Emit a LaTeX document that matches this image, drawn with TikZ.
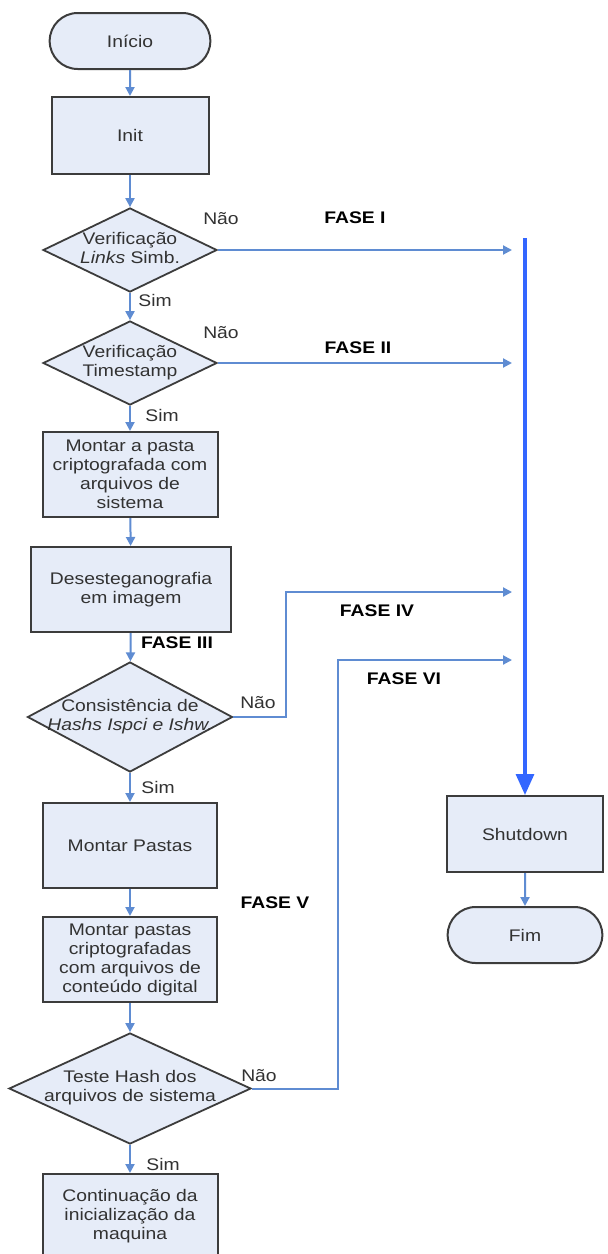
\documentclass[tikz,border=0pt]{standalone}
\usepackage{fontspec}
\setmainfont{Liberation Sans}[FakeStretch=1.15]
\usetikzlibrary{shapes.geometric,shapes.misc,arrows.meta}
\definecolor{boxfill}{RGB}{230,236,248}
\definecolor{boxline}{RGB}{60,60,60}
\definecolor{textgray}{RGB}{50,50,50}
\definecolor{flow}{RGB}{95,140,210}
\definecolor{busblue}{RGB}{51,102,255}
\newcommand{\dtext}[1]{\makebox[0pt]{\begin{tabular}{@{}c@{}}#1\end{tabular}}}
\tikzset{
  process/.style={rectangle, draw=boxline, fill=boxfill, line width=1pt, align=center, inner sep=2pt},
  terminal/.style={rounded rectangle, draw=boxline, fill=boxfill, line width=1pt},
  decision/.style={diamond, draw=boxline, fill=boxfill, line width=0.9pt, inner sep=0pt},
  flowarrow/.style={draw=flow, line width=1pt, -{Triangle[length=4.5pt,width=4.5pt]}},
  busarrow/.style={draw=busblue, line width=1.6pt, -{Triangle[length=10.5pt,width=9pt]}},
  fase/.style={font=\fontsize{8.4}{9.5}\selectfont\bfseries, text=black}
}
\begin{document}
\begin{tikzpicture}[x=0.5pt,y=-0.5pt, every node/.style={font=\fontsize{8.4}{9.5}\selectfont, text=textgray}]
    \fill[white] (0,0) rectangle (608,1254);
    \useasboundingbox (0,0) rectangle (608,1254);
    % left column
    \node[terminal, minimum width=87pt, minimum height=28pt] (start) at (130,41) {Início};
    \node[process, minimum width=78.5pt, minimum height=38.5pt] (init) at (130,135.5) {Init};
    \node[decision, minimum width=87pt, minimum height=42pt] (ver1) at (130,250) {\dtext{Verificação\\\textit{Links} Simb.}};
    \node[decision, minimum width=87pt, minimum height=42pt] (ver2) at (130,363) {\dtext{Verificação\\Timestamp}};
    \node[process, minimum width=87.5pt, minimum height=42.5pt] (pasta) at (130,474.5) {Montar a pasta\\criptografada com\\arquivos de\\sistema};
    \node[process, minimum width=100pt, minimum height=42.5pt] (deseg) at (131,589.5) {Desesteganografia\\em imagem};
    \node[decision, minimum width=102.5pt, minimum height=55pt] (hash) at (130,717) {\dtext{Consistência de\\\textit{Hashs Ispci e Ishw.}}};
    \node[process, minimum width=87pt, minimum height=42.5pt] (pastas) at (130,845.5) {Montar Pastas};
    \node[process, minimum width=87pt, minimum height=42.5pt] (cripto) at (130,959.5) {Montar pastas\\criptografadas\\com arquivos de\\conteúdo digital};
    \node[decision, minimum width=121pt, minimum height=55.5pt] (teste) at (130,1088.5) {\dtext{Teste Hash dos\\arquivos de sistema}};
    \node[process, minimum width=87.5pt, minimum height=42.5pt] (cont) at (130,1216.5) {Continuação da\\inicialização da\\maquina};
    % right column
    \node[process, minimum width=78pt, minimum height=38pt] (shut) at (525,834) {Shutdown};
    \node[terminal, minimum width=84pt, minimum height=28pt] (fim) at (525,935) {Fim};
    \coordinate (bus) at (525,238);
    \coordinate (f1) at (512,250);
    \coordinate (f2) at (512,363);
    \coordinate (k4) at (286,592);
    \coordinate (f4) at (512,592);
    \coordinate (k6) at (338,660);
    \coordinate (f6) at (512,660);
    % labels
    \node (nao1) at (221,219) {Não};
    \node (sim1) at (155,300) {Sim};
    \node (nao2) at (221,333) {Não};
    \node (sim2) at (162,415) {Sim};
    \node (nao3) at (258,703) {Não};
    \node (sim3) at (158,787) {Sim};
    \node (nao4) at (259,1076) {Não};
    \node (sim4) at (163,1164) {Sim};
    \node[fase] (faseI) at (355,218) {FASE I};
    \node[fase] (faseII) at (358,348) {FASE II};
    \node[fase] (faseIII) at (177,643) {FASE III};
    \node[fase] (faseIV) at (377,611) {FASE IV};
    \node[fase] (faseV) at (275,903) {FASE V};
    \node[fase] (faseVI) at (404,679) {FASE VI};
    % connectors
    \draw[flowarrow] (start) -- (init);
    \draw[flowarrow] (init) -- (ver1);
    \draw[flowarrow] (ver1) -- (ver2);
    \draw[flowarrow] (ver2) -- (pasta);
    \draw[flowarrow] (pasta) -- (deseg);
    \draw[flowarrow] (deseg) -- (hash);
    \draw[flowarrow] (hash) -- (pastas);
    \draw[flowarrow] (pastas) -- (cripto);
    \draw[flowarrow] (cripto) -- (teste);
    \draw[flowarrow] (teste) -- (cont);
    \draw[flowarrow] (ver1.east) -- (f1);
    \draw[flowarrow] (ver2.east) -- (f2);
    \draw[flowarrow] (hash.east) -| (k4) -- (f4);
    \draw[flowarrow] (teste.east) -| (k6) -- (f6);
    \draw[busarrow] (bus) -- (shut);
    \draw[flowarrow] (shut) -- (fim);
\end{tikzpicture}
\end{document}
